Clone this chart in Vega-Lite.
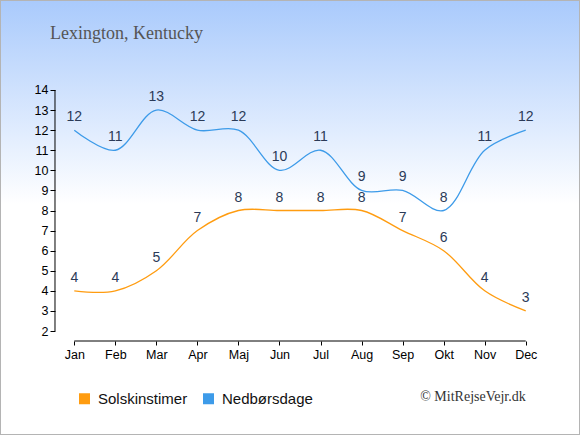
{
  "$schema": "https://vega.github.io/schema/vega-lite/v6.json",
  "width": 580,
  "height": 435,
  "padding": 0,
  "autosize": {"type": "none"},
  "background": "#ffffff",
  "config": {
    "view": {
      "fill": {"gradient": "linear", "x1": 0, "y1": 0, "x2": 0, "y2": 1,
        "stops": [{"offset": 0, "color": "#a9cafc"}, {"offset": 0.47, "color": "#ffffff"}, {"offset": 1, "color": "#ffffff"}]},
      "stroke": "#b4b4b4",
      "strokeWidth": 2
    },
    "font": "Liberation Sans",
    "axisX": {"orient": "bottom", "offset": -94, "domain": false, "grid": false, "tickColor": "#000000", "tickSize": 4, "labelColor": "#000000", "labelFontSize": 12.5, "labelPadding": 3, "labelFont": "Liberation Sans", "labelOverlap": false},
    "axisY": {"orient": "left", "offset": -55, "domain": false, "grid": false, "tickColor": "#000000", "tickSize": 5, "labelColor": "#000000", "labelFontSize": 12.5, "labelPadding": 2, "labelFont": "Liberation Sans", "labelOverlap": false}
  },
  "title": {
    "text": "Lexington, Kentucky",
    "anchor": "start",
    "frame": "group",
    "orient": "top",
    "offset": 0,
    "dx": 50,
    "dy": 57,
    "baseline": "alphabetic",
    "font": "Liberation Serif",
    "fontSize": 18,
    "fontWeight": "normal",
    "color": "#555555"
  },
  "datasets": {
    "climate": [
      {"month": 1, "series": "Solskinstimer", "value": 4},
      {"month": 2, "series": "Solskinstimer", "value": 4},
      {"month": 3, "series": "Solskinstimer", "value": 5},
      {"month": 4, "series": "Solskinstimer", "value": 7},
      {"month": 5, "series": "Solskinstimer", "value": 8},
      {"month": 6, "series": "Solskinstimer", "value": 8},
      {"month": 7, "series": "Solskinstimer", "value": 8},
      {"month": 8, "series": "Solskinstimer", "value": 8},
      {"month": 9, "series": "Solskinstimer", "value": 7},
      {"month": 10, "series": "Solskinstimer", "value": 6},
      {"month": 11, "series": "Solskinstimer", "value": 4},
      {"month": 12, "series": "Solskinstimer", "value": 3},
      {"month": 1, "series": "Nedbørsdage", "value": 12},
      {"month": 2, "series": "Nedbørsdage", "value": 11},
      {"month": 3, "series": "Nedbørsdage", "value": 13},
      {"month": 4, "series": "Nedbørsdage", "value": 12},
      {"month": 5, "series": "Nedbørsdage", "value": 12},
      {"month": 6, "series": "Nedbørsdage", "value": 10},
      {"month": 7, "series": "Nedbørsdage", "value": 11},
      {"month": 8, "series": "Nedbørsdage", "value": 9},
      {"month": 9, "series": "Nedbørsdage", "value": 9},
      {"month": 10, "series": "Nedbørsdage", "value": 8},
      {"month": 11, "series": "Nedbørsdage", "value": 11},
      {"month": 12, "series": "Nedbørsdage", "value": 12}
    ]
  },
  "layer": [
    {
      "data": {"name": "climate"},
      "mark": {"type": "line", "interpolate": "catmull-rom", "strokeWidth": 1.3},
      "encoding": {
        "x": {
          "field": "month", "type": "quantitative",
          "scale": {"domain": [-0.810, 13.322], "nice": false, "zero": false},
          "axis": {"values": [1,2,3,4,5,6,7,8,9,10,11,12], "title": null,
            "labelExpr": "['Jan','Feb','Mar','Apr','Maj','Jun','Jul','Aug','Sep','Okt','Nov','Dec'][datum.value-1]"}
        },
        "y": {
          "field": "value", "type": "quantitative",
          "scale": {"domain": [-3.178, 18.481], "nice": false, "zero": false},
          "axis": {"values": [2,3,4,5,6,7,8,9,10,11,12,13,14], "title": null}
        },
        "color": {
          "field": "series", "type": "nominal",
          "scale": {"domain": ["Solskinstimer", "Nedbørsdage"], "range": ["#ff9c10", "#3d9be9"]},
          "legend": {
            "orient": "none", "legendX": 77, "legendY": 391, "direction": "horizontal",
            "title": null, "symbolType": "square", "symbolSize": 121,
            "labelFontSize": 15, "labelOffset": 6, "columnPadding": 13, "labelColor": "#111111",
            "labelFont": "Liberation Sans",
            "encode": {"symbols": {"update": {"fill": {"scale": "color", "field": "value"}, "strokeWidth": {"value": 0}, "opacity": {"value": 1}}}}
          }
        }
      }
    },
    {
      "data": {"name": "climate"},
      "mark": {"type": "text", "dy": -13, "color": "#2b3a57", "fontSize": 14, "font": "Liberation Sans", "baseline": "middle"},
      "encoding": {
        "x": {"field": "month", "type": "quantitative",
          "axis": {"values": [1,2,3,4,5,6,7,8,9,10,11,12], "title": null,
            "labelExpr": "['Jan','Feb','Mar','Apr','Maj','Jun','Jul','Aug','Sep','Okt','Nov','Dec'][datum.value-1]"}},
        "y": {"field": "value", "type": "quantitative",
          "axis": {"values": [2,3,4,5,6,7,8,9,10,11,12,13,14], "title": null}},
        "text": {"field": "value", "type": "quantitative"}
      }
    },
    {
      "data": {"values": [{"axis": "x"}]},
      "mark": {"type": "rule", "color": "#000000", "strokeWidth": 1},
      "encoding": {
        "x": {"datum": 1,
          "axis": {"values": [1,2,3,4,5,6,7,8,9,10,11,12], "title": null,
            "labelExpr": "['Jan','Feb','Mar','Apr','Maj','Jun','Jul','Aug','Sep','Okt','Nov','Dec'][datum.value-1]"}},
        "x2": {"datum": 12},
        "y": {"datum": 1.502,
          "axis": {"values": [2,3,4,5,6,7,8,9,10,11,12,13,14], "title": null}}
      }
    },
    {
      "data": {"values": [{"axis": "y"}]},
      "mark": {"type": "rule", "color": "#000000", "strokeWidth": 1},
      "encoding": {
        "x": {"datum": 0.53,
          "axis": {"values": [1,2,3,4,5,6,7,8,9,10,11,12], "title": null,
            "labelExpr": "['Jan','Feb','Mar','Apr','Maj','Jun','Jul','Aug','Sep','Okt','Nov','Dec'][datum.value-1]"}},
        "y": {"datum": 2,
          "axis": {"values": [2,3,4,5,6,7,8,9,10,11,12,13,14], "title": null}},
        "y2": {"datum": 14}
      }
    },
    {
      "data": {"values": [{"t": "© MitRejseVejr.dk"}]},
      "mark": {"type": "text", "align": "right", "baseline": "middle", "font": "Liberation Serif", "fontSize": 14, "color": "#333333"},
      "encoding": {
        "x": {"datum": 12,
          "axis": {"values": [1,2,3,4,5,6,7,8,9,10,11,12], "title": null,
            "labelExpr": "['Jan','Feb','Mar','Apr','Maj','Jun','Jul','Aug','Sep','Okt','Nov','Dec'][datum.value-1]"}},
        "y": {"datum": -1.27,
          "axis": {"values": [2,3,4,5,6,7,8,9,10,11,12,13,14], "title": null}},
        "text": {"field": "t", "type": "nominal"}
      }
    }
  ]
}
